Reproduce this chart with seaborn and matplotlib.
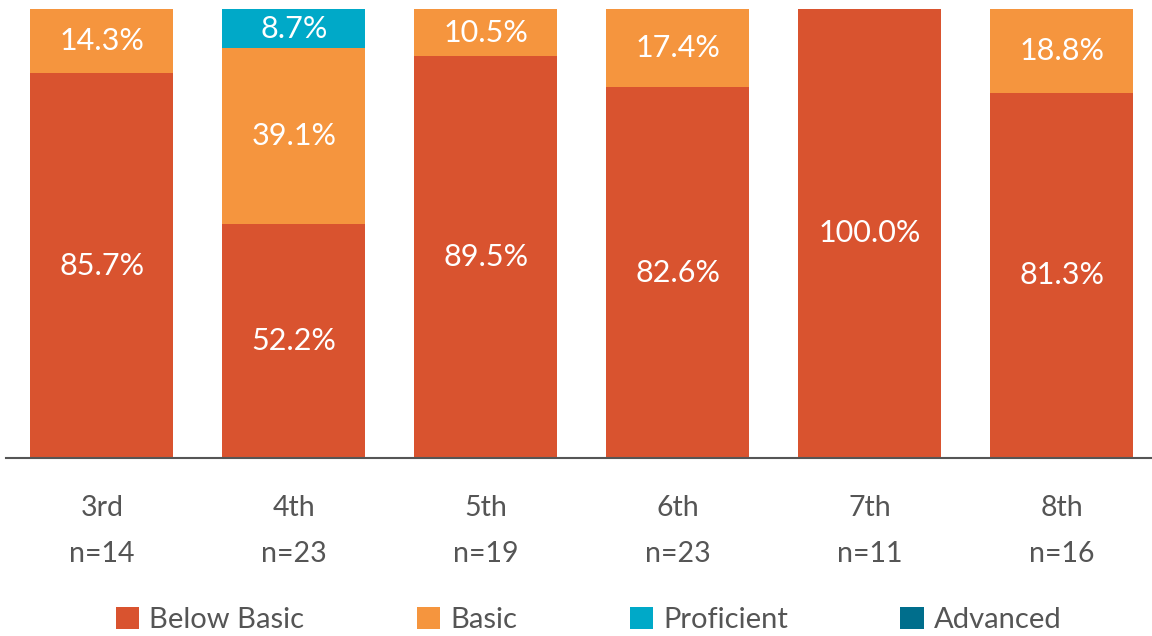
import matplotlib
matplotlib.use("Agg")
import matplotlib.pyplot as plt
import seaborn as sns
import numpy as np
import pandas as pd
from matplotlib.patches import Patch

grades = ["3rd\nn=14", "4th\nn=23", "5th\nn=19", "6th\nn=23", "7th\nn=11", "8th\nn=16"]
below_basic = [85.7, 52.2, 89.5, 82.6, 100.0, 81.3]
basic = [14.3, 39.1, 10.5, 17.4, 0.0, 18.8]
proficient = [0.0, 8.7, 0.0, 0.0, 0.0, 0.0]
advanced = [0.0, 0.0, 0.0, 0.0, 0.0, 0.0]
series_names = ["Below Basic", "Basic", "Proficient", "Advanced"]
colors = ["#D9532F", "#F5953E", "#00A9C8", "#006E8C"]

sns.set_style("white")
plt.rcParams["font.family"] = ["Lato", "DejaVu Sans"]

fig = plt.figure(figsize=(11.52, 6.36), dpi=100)
ax = fig.add_axes([6 / 1152, 1 - 458 / 636, 1146 / 1152, 449 / 636])

df = pd.DataFrame({"grade": grades, "Below Basic": below_basic, "Basic": basic,
                   "Proficient": proficient, "Advanced": advanced})
bottom = np.zeros(len(grades))
for name, col in zip(series_names, colors):
    vals = df[name].to_numpy()
    sns.barplot(x="grade", y=name, data=df, color=col, bottom=bottom, width=0.745,
                ax=ax, saturation=1, linewidth=0)
    for i, v in enumerate(vals):
        if v > 0:
            ax.text(i, bottom[i] + v / 2, f"{v:.1f}%", ha="center", va="center",
                    color="white", fontsize=22)
    bottom = bottom + vals

ax.set_ylim(0, 100)
ax.set_xlim(-0.5, 5.47)
ax.set_xlabel("")
ax.set_ylabel("")
ax.set_yticks([])
for s in ["top", "right", "left"]:
    ax.spines[s].set_visible(False)
ax.spines["bottom"].set_color("#555555")
ax.spines["bottom"].set_linewidth(1.5)
ax.tick_params(axis="x", length=0, pad=27, labelsize=20.5, labelcolor="#555555")
for lbl in ax.get_xticklabels():
    lbl.set_linespacing(1.95)

handles = [Patch(facecolor=c, edgecolor="none") for c in colors]
fig.legend(handles, series_names, loc="center", bbox_to_anchor=(0.511, 1 - 620 / 636),
           ncol=4, frameon=False, fontsize=21, labelcolor="#555555",
           handlelength=0.8, handleheight=0.8, handletextpad=0.35, columnspacing=3.85)

fig.savefig("out.png", dpi=100)
